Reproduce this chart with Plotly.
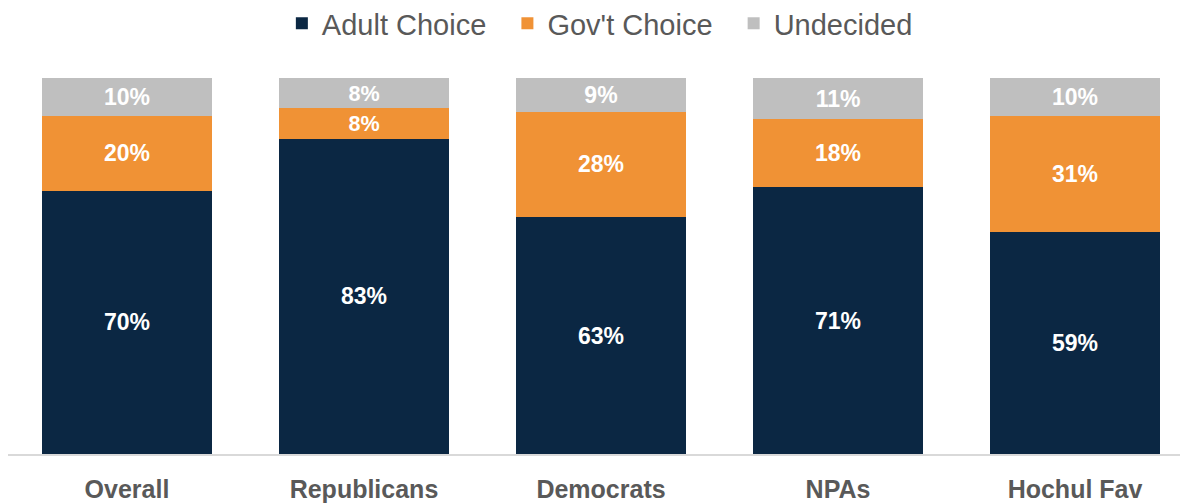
import plotly.graph_objects as go

categories = ["Overall", "Republicans", "Democrats", "NPAs", "Hochul Fav"]
adult_choice = [70, 83, 63, 71, 59]
govt_choice = [20, 8, 28, 18, 31]
undecided = [10, 8, 9, 11, 10]

NB = "\u00a0"
series = [
    ("Adult Choice" + NB * 2, adult_choice, "#0B2743"),
    ("Gov't Choice" + NB * 2, govt_choice, "#F09235"),
    ("Undecided", undecided, "#BFBFBF"),
]

fig = go.Figure()
for name, vals, color in series:
    fig.add_trace(go.Bar(
        x=categories, y=vals, name=name,
        marker=dict(color=color, line=dict(width=0)),
        customdata=vals,
        texttemplate="<b>%{customdata}%</b>",
        textposition="inside", insidetextanchor="middle",
        textfont=dict(color="white", size=23, family="Liberation Sans, Arial"),
        hoverinfo="skip",
    ))

fig.update_layout(
    barmode="stack", barnorm="percent", bargap=0.283,
    width=1180, height=503,
    margin=dict(l=8, r=0, t=78, b=49, autoexpand=False),
    paper_bgcolor="white", plot_bgcolor="white",
    font=dict(family="Liberation Sans, Arial", color="#595959"),
    legend=dict(orientation="h", x=0.505, xanchor="center", y=1.213, yanchor="top",
                yref="paper", font=dict(size=29, color="#595959"),
                itemwidth=30, traceorder="normal"),
    showlegend=True,
)
fig.update_xaxes(range=[-0.502, 4.443], showline=True, linecolor="#D9D9D9", linewidth=2,
                 tickfont=dict(size=25, color="#595959", family="Liberation Sans, Arial"),
                 tickprefix="<b>", ticksuffix="</b>", ticklabelstandoff=12,
                 automargin=False, showgrid=False, zeroline=False)
fig.update_yaxes(range=[0, 100], visible=False, showgrid=False, automargin=False)

fig.write_html("out.html")
